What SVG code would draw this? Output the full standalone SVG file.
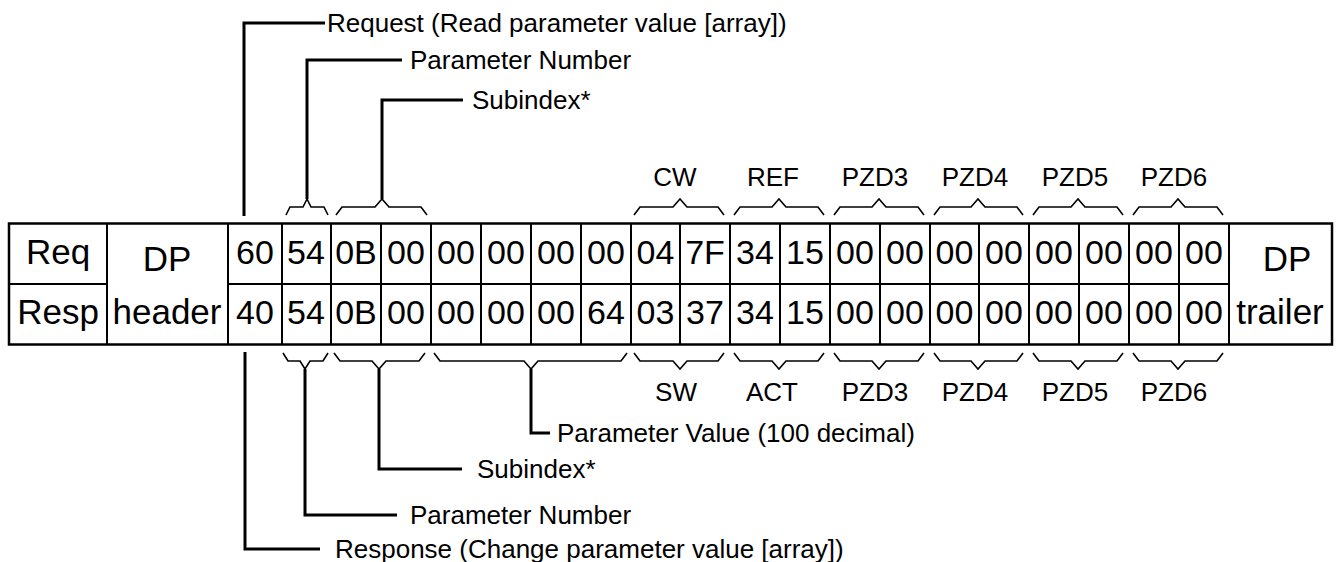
<svg xmlns="http://www.w3.org/2000/svg" width="1340" height="562" viewBox="0 0 1340 562">
<style>
.cell{font-family:"Liberation Sans",Arial,sans-serif;font-size:34px;fill:#000;text-anchor:middle}
.word{font-family:"Liberation Sans",Arial,sans-serif;font-size:35px;fill:#000;text-anchor:middle}
.lbl{font-family:"Liberation Sans",Arial,sans-serif;font-size:26px;fill:#000}
.lblc{font-family:"Liberation Sans",Arial,sans-serif;font-size:26px;fill:#000;text-anchor:middle}
.grid{stroke:#000;stroke-width:2;fill:none}
.outer{stroke:#000;stroke-width:2.5;fill:none}
.brace{stroke:#000;stroke-width:1.6;fill:none;stroke-linejoin:miter}
.lead{stroke:#000;stroke-width:3;fill:none;stroke-linejoin:miter}
</style>
<rect width="1340" height="562" fill="#fff"/>
<g id="table">
<rect class="outer" x="9" y="223.5" width="1323" height="121"/>
<path class="grid" d="M9,284H107M228,284H1229M107,223.5V344.5M228,223.5V344.5M282,223.5V344.5M331,223.5V344.5M381,223.5V344.5M431,223.5V344.5M481,223.5V344.5M531,223.5V344.5M581,223.5V344.5M631,223.5V344.5M680,223.5V344.5M730,223.5V344.5M780,223.5V344.5M830,223.5V344.5M880,223.5V344.5M930,223.5V344.5M979,223.5V344.5M1029,223.5V344.5M1079,223.5V344.5M1129,223.5V344.5M1179,223.5V344.5M1229,223.5V344.5"/>
<text class="word" x="58" y="264">Req</text>
<text class="word" x="58" y="324">Resp</text>
<text class="word" x="167" y="271">DP</text>
<text class="word" x="167" y="324">header</text>
<text class="word" x="1287" y="271">DP</text>
<text class="word" x="1280" y="324">trailer</text>
<g id="req-bytes">
<text class="cell" x="255" y="264">60</text>
<text class="cell" x="306" y="264">54</text>
<text class="cell" x="356" y="264">0B</text>
<text class="cell" x="406" y="264">00</text>
<text class="cell" x="456" y="264">00</text>
<text class="cell" x="506" y="264">00</text>
<text class="cell" x="556" y="264">00</text>
<text class="cell" x="606" y="264">00</text>
<text class="cell" x="655.5" y="264">04</text>
<text class="cell" x="705" y="264">7F</text>
<text class="cell" x="755" y="264">34</text>
<text class="cell" x="805" y="264">15</text>
<text class="cell" x="855" y="264">00</text>
<text class="cell" x="905" y="264">00</text>
<text class="cell" x="954.5" y="264">00</text>
<text class="cell" x="1004" y="264">00</text>
<text class="cell" x="1054" y="264">00</text>
<text class="cell" x="1104" y="264">00</text>
<text class="cell" x="1154" y="264">00</text>
<text class="cell" x="1204" y="264">00</text>
</g>
<g id="resp-bytes">
<text class="cell" x="255" y="324">40</text>
<text class="cell" x="306" y="324">54</text>
<text class="cell" x="356" y="324">0B</text>
<text class="cell" x="406" y="324">00</text>
<text class="cell" x="456" y="324">00</text>
<text class="cell" x="506" y="324">00</text>
<text class="cell" x="556" y="324">00</text>
<text class="cell" x="606" y="324">64</text>
<text class="cell" x="655.5" y="324">03</text>
<text class="cell" x="705" y="324">37</text>
<text class="cell" x="755" y="324">34</text>
<text class="cell" x="805" y="324">15</text>
<text class="cell" x="855" y="324">00</text>
<text class="cell" x="905" y="324">00</text>
<text class="cell" x="954.5" y="324">00</text>
<text class="cell" x="1004" y="324">00</text>
<text class="cell" x="1054" y="324">00</text>
<text class="cell" x="1104" y="324">00</text>
<text class="cell" x="1154" y="324">00</text>
<text class="cell" x="1204" y="324">00</text>
</g>
</g>
<g id="connectors">
<g id="top-braces">
<path class="brace" d="M286,215L290,207H303L307,199L311,207H324L328,215"/>
<path class="brace" d="M336,215L342,207H375L382,199L389,207H421L427,215"/>
<path class="brace" d="M634,215L640,207H673L680,199L687,207H718L724,215"/>
<path class="brace" d="M734,215L740,207H772L779,199L786,207H818L824,215"/>
<path class="brace" d="M834,215L840,207H872L879,199L886,207H918L924,215"/>
<path class="brace" d="M934,215L940,207H971L978,199L985,207H1017L1023,215"/>
<path class="brace" d="M1033,215L1039,207H1071L1078,199L1085,207H1117L1123,215"/>
<path class="brace" d="M1133,215L1139,207H1171L1178,199L1185,207H1217L1223,215"/>
</g>
<g id="bottom-braces">
<path class="brace" d="M283,353L288,361H300L305,369L310,361H323L328,353"/>
<path class="brace" d="M334,353L340,361H372L379,369L386,361H419L425,353"/>
<path class="brace" d="M434,353L440,361H524L531,369L538,361H621L627,353"/>
<path class="brace" d="M634,353L640,361H673L680,369L687,361H718L724,353"/>
<path class="brace" d="M734,353L740,361H772L779,369L786,361H818L824,353"/>
<path class="brace" d="M834,353L840,361H872L879,369L886,361H918L924,353"/>
<path class="brace" d="M934,353L940,361H971L978,369L985,361H1017L1023,353"/>
<path class="brace" d="M1033,353L1039,361H1071L1078,369L1085,361H1117L1123,353"/>
<path class="brace" d="M1133,353L1139,361H1171L1178,369L1185,361H1217L1223,353"/>
</g>
<g id="leaders">
<path class="lead" d="M244,216V23H325"/>
<path class="lead" d="M307,199V60H402"/>
<path class="lead" d="M382,199V100H463"/>
<path class="lead" d="M245,352V549H320"/>
<path class="lead" d="M305,369V515H397"/>
<path class="lead" d="M379,369V469H462"/>
<path class="lead" d="M531,369V433H550"/>
</g>
</g>
<g id="top-labels">
<text id="lbl-request" class="lbl" x="327" y="32">Request (Read parameter value [array])</text>
<text id="lbl-pnum-top" class="lbl" x="410" y="69">Parameter Number</text>
<text id="lbl-sub-top" class="lbl" x="472" y="109">Subindex*</text>
<text class="lblc" x="675" y="186">CW</text>
<text class="lblc" x="773" y="186">REF</text>
<text class="lblc" x="875" y="186">PZD3</text>
<text class="lblc" x="975" y="186">PZD4</text>
<text class="lblc" x="1075" y="186">PZD5</text>
<text class="lblc" x="1174" y="186">PZD6</text>
</g>
<g id="bottom-labels">
<text class="lblc" x="676" y="401">SW</text>
<text class="lblc" x="772" y="401">ACT</text>
<text class="lblc" x="875" y="401">PZD3</text>
<text class="lblc" x="975" y="401">PZD4</text>
<text class="lblc" x="1075" y="401">PZD5</text>
<text class="lblc" x="1174" y="401">PZD6</text>
<text id="lbl-pval" class="lbl" x="557" y="442">Parameter Value (100 decimal)</text>
<text id="lbl-sub-bot" class="lbl" x="477" y="478">Subindex*</text>
<text id="lbl-pnum-bot" class="lbl" x="410" y="524">Parameter Number</text>
<text id="lbl-response" class="lbl" x="335" y="558">Response (Change parameter value [array])</text>
</g>
</svg>
